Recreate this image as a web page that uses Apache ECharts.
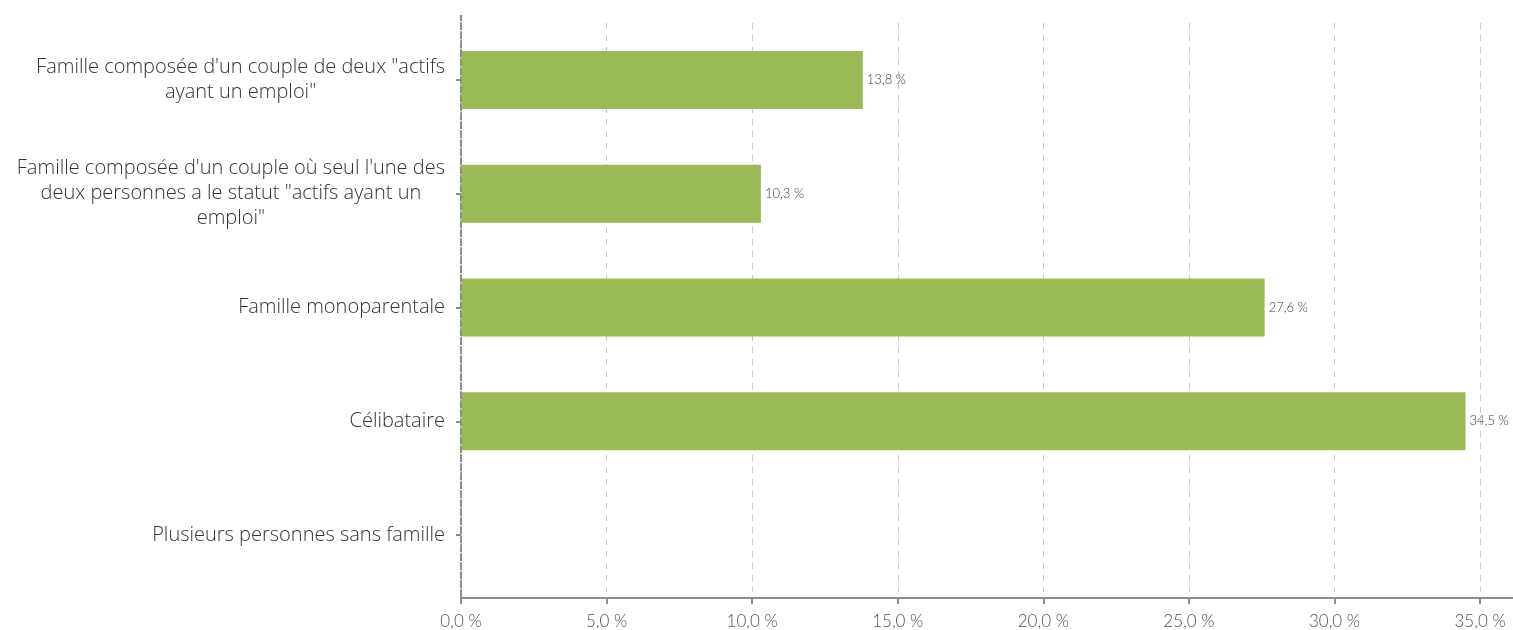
<!DOCTYPE html>
<html>
<head>
<meta charset="utf-8">
<script src="https://cdn.jsdelivr.net/npm/echarts@6/dist/echarts.min.js"></script>
<style>
html,body{margin:0;padding:0;background:#fff;}
#chart{width:1513px;height:630px;}
</style>
</head>
<body>
<div id="chart"></div>
<script>
const categories = [
  'Famille composée d\'un couple de deux "actifs\nayant un emploi"',
  'Famille composée d\'un couple où seul l\'une des\ndeux personnes a le statut "actifs ayant un\nemploi"',
  'Famille monoparentale',
  'Célibataire',
  'Plusieurs personnes sans famille'
];
const values = [13.8, 10.3, 27.6, 34.5, null];
const xTickStep = 5;

const fmt = v => v.toFixed(1).replace('.', ',') + ' %';

const chart = echarts.init(document.getElementById('chart'));
chart.setOption({
  animation: false,
  grid: { left: 461, right: -3, top: 23, bottom: 38, containLabel: false },
  xAxis: {
    type: 'value',
    min: 0,
    max: 36.13,
    interval: xTickStep,
    offset: 6,
    axisLine: { show: true, lineStyle: { color: '#8c8c8c', width: 2 } },
    axisTick: { show: true, length: 6, lineStyle: { color: '#8c8c8c', width: 2 } },
    axisLabel: {
      showMaxLabel: false,
      margin: 15,
      color: '#505050',
      fontFamily: 'Lato',
      fontWeight: 300,
      fontSize: 17,
      formatter: v => fmt(v)
    },
    splitLine: { show: true, lineStyle: { color: '#c8c8c8', type: [6, 6], width: 1 } }
  },
  yAxis: {
    type: 'category',
    inverse: true,
    data: categories,
    axisLine: { show: true, lineStyle: { color: '#8c8c8c', width: 2, type: [6, 3] } },
    axisTick: { show: true, alignWithLabel: true, length: 5, lineStyle: { color: '#8c8c8c', width: 2 } },
    axisLabel: {
      margin: 16,
      formatter: v => v.split('\n').map(s => '{c|' + s + '}').join('\n'),
      rich: {
        c: { align: 'center', color: '#333333', fontFamily: 'Open Sans', fontWeight: 300, fontSize: 20, lineHeight: 25 }
      }
    }
  },
  series: [{
    type: 'bar',
    data: values,
    barWidth: 58,
    itemStyle: { color: '#9BBB59' },
    label: {
      show: true,
      position: 'right',
      distance: 4,
      color: '#404040',
      fontFamily: 'Lato',
      fontWeight: 300,
      fontSize: 13,
      formatter: p => fmt(p.value)
    }
  }]
});
// extend the vertical axis line above and below the plot, as in the reference
const x0 = chart.convertToPixel({ xAxisIndex: 0 }, 0);
chart.setOption({
  graphic: [{
    type: 'line', z: 10, silent: true,
    shape: { x1: x0, y1: 15, x2: x0, y2: 603 },
    style: { stroke: '#8c8c8c', lineWidth: 2, lineDash: [6, 3] }
  }]
});
</script>
</body>
</html>
